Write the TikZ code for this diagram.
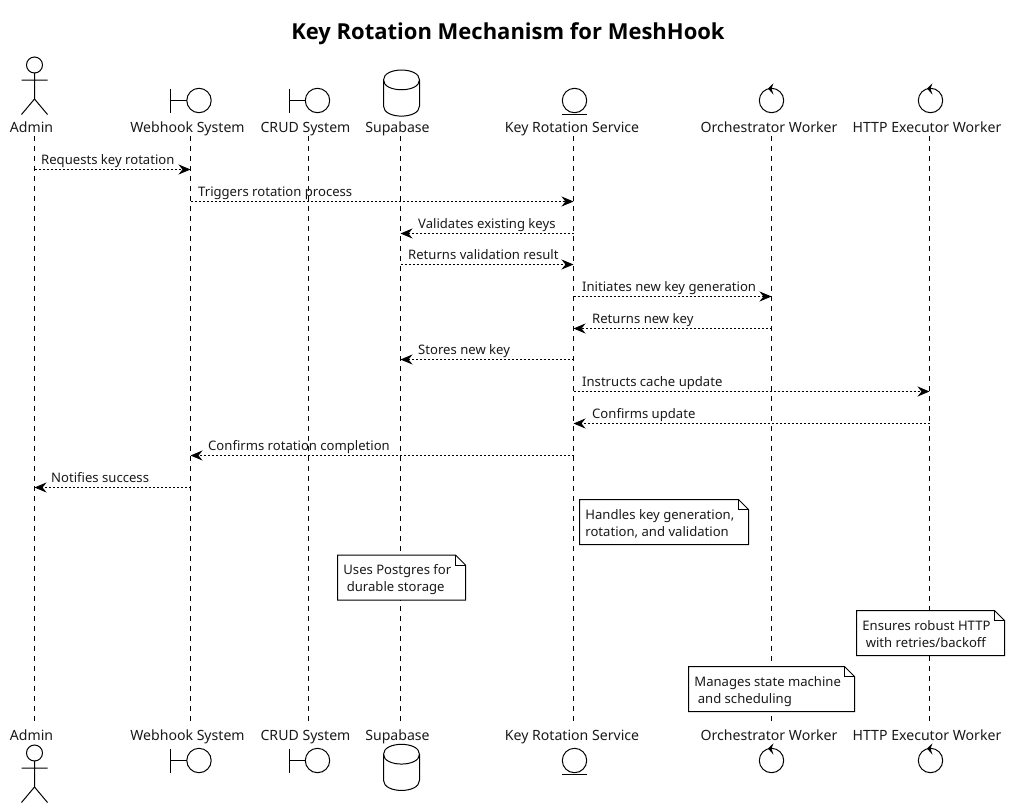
\documentclass[tikz,border=0pt]{standalone}
\usepackage{fontspec}
\setmainfont{Noto Sans}
\newfontfamily\titlefont{Open Sans}
\usetikzlibrary{arrows.meta}
\tikzset{
  lbl/.style={inner sep=0pt,font=\fontsize{14.1}{17}\selectfont,text=black!90},
  partlabel/.style={lbl,anchor=base},
  lifeline/.style={line width=0.9pt,dash pattern=on 5pt off 5pt},
  msg/.style={line width=0.8pt,dash pattern=on 2pt off 2pt,-{Stealth[length=12pt,width=10pt,inset=4pt]}},
  msgtext/.style={lbl,font=\fontsize{13.1}{16}\selectfont,anchor=base west},
  icon/.style={line width=1pt,fill=white},
  notebox/.style={line width=1pt,fill=white},
  notetext/.style={lbl,font=\fontsize{13.1}{17}\selectfont,align=left,anchor=north west}
}
\newcommand{\actorfig}[2]{% x, y offset
  \begin{scope}[shift={(#1,#2)}]
    \draw[icon] (0,0) circle (8);
    \draw[icon] (0,8) -- (0,34) (-13,15) -- (13,15) (-13,49.5) -- (0,34) -- (13,49.5);
  \end{scope}}
\newcommand{\boundaryfig}[2]{% circle centre
  \begin{scope}[shift={(#1,#2)}]
    \draw[icon] (-28.5,-12) -- (-28.5,12) (-28.5,0) -- (-12,0);
    \draw[icon] (0,0) circle (12.2);
  \end{scope}}
\newcommand{\dbfig}[2]{% top centre
  \begin{scope}[shift={(#1,#2)}]
    \draw[icon] (-18,10) .. controls (-18,-3.3) and (18,-3.3) .. (18,10)
      -- (18,36) .. controls (18,49.5) and (-18,49.5) .. (-18,36) -- cycle;
    \draw[icon,fill=none] (-18,10) .. controls (-18,23) and (18,23) .. (18,10);
  \end{scope}}
\newcommand{\entityfig}[2]{%
  \begin{scope}[shift={(#1,#2)}]
    \draw[icon] (0,0) circle (12.2);
    \draw[icon] (-12.5,14) -- (12.5,14);
  \end{scope}}
\newcommand{\controlfig}[2]{%
  \begin{scope}[shift={(#1,#2)}]
    \draw[icon] (0,0) circle (12.2);
    \fill[black] (-3.5,-12) -- (2,-17.2) -- (0,-12) -- (2,-5.8) -- cycle;
  \end{scope}}
% \notefig{name}{x1}{y1}{x2}{y2}{text}
\newcommand{\notefig}[6]{%
  \draw[notebox] (#2,#3) -- (#4-10,#3) -- (#4,#3+10) -- (#4,#5) -- (#2,#5) -- cycle;
  \draw[line width=1pt] (#4-10,#3) -- (#4-10,#3+10) -- (#4,#3+10);
  \node[notetext] (#1) at (#2+5.7,#3+9.5) {#6};}
% \msgline{from}{to}{y (integer part; .5 is added)}{label x}{label}
\newcommand{\msgline}[5]{%
  \coordinate (s#3) at (#1|-0,#3.5);
  \coordinate (e#3) at (#2|-0,#3.5);
  \draw[msg] (s#3) -- (e#3);
  \node[msgtext] (t#3) at (#4,#3-4.5) {#5};}
\begin{document}
\begin{tikzpicture}[x=1pt,y=-1pt]
\useasboundingbox (0,0) rectangle (1010,809);
\fill[white] (0,0) rectangle (1010,809);

\node[lbl,font=\titlefont\fontsize{22}{26}\selectfont\bfseries,text=black,anchor=center] (title) at (508,34) {Key Rotation Mechanism for MeshHook};

% participant anchors on the lifelines
\coordinate (admin) at (34.5,136);
\coordinate (webhook) at (190.5,136);
\coordinate (crud) at (308.5,136);
\coordinate (supabase) at (400.5,136);
\coordinate (krs) at (573.5,136);
\coordinate (orch) at (771.5,136);
\coordinate (http) at (929.5,136);
\coordinate (adminB) at (34.5,722);
\coordinate (webhookB) at (190.5,722);
\coordinate (crudB) at (308.5,722);
\coordinate (supabaseB) at (400.5,722);
\coordinate (krsB) at (573.5,722);
\coordinate (orchB) at (771.5,722);
\coordinate (httpB) at (929.5,722);

\foreach \p in {admin,webhook,crud,supabase,krs,orch,http}
  \draw[lifeline] (\p) -- (\p B);

% top labels
\node[partlabel] (l1) at (31.5,132) {Admin};
\node[partlabel] (l2) at (187.5,132) {Webhook System};
\node[partlabel] (l3) at (305.5,132) {CRUD System};
\node[partlabel] (l4) at (397.5,132) {Supabase};
\node[partlabel] (l5) at (572,132) {Key Rotation Service};
\node[partlabel] (l6) at (769,132) {Orchestrator Worker};
\node[partlabel] (l7) at (927,132) {HTTP Executor Worker};
% bottom labels
\node[partlabel] (b1) at (31.5,740) {Admin};
\node[partlabel] (b2) at (187.5,740) {Webhook System};
\node[partlabel] (b3) at (305.5,740) {CRUD System};
\node[partlabel] (b4) at (397.5,740) {Supabase};
\node[partlabel] (b5) at (572,740) {Key Rotation Service};
\node[partlabel] (b6) at (769,740) {Orchestrator Worker};
\node[partlabel] (b7) at (927,740) {HTTP Executor Worker};

% top icons
\actorfig{34.5}{65}
\boundaryfig{199}{100.5}
\boundaryfig{317.5}{100.5}
\dbfig{401.5}{70}
\entityfig{574.5}{100.5}
\controlfig{771.5}{100.5}
\controlfig{930.5}{100.5}
% bottom icons
\actorfig{34.5}{753}
\boundaryfig{199}{760.5}
\boundaryfig{317.5}{760.5}
\dbfig{401.5}{744.3}
\entityfig{574.5}{760.5}
\controlfig{771.5}{760.5}
\controlfig{930.5}{760.5}

% messages
\msgline{admin}{webhook}{169}{41}{Requests key rotation}
\msgline{webhook}{krs}{201}{198}{Triggers rotation process}
\msgline{krs}{supabase}{233}{418}{Validates existing keys}
\msgline{supabase}{krs}{264}{408}{Returns validation result}
\msgline{krs}{orch}{296}{582}{Initiates new key generation}
\msgline{orch}{krs}{328}{592}{Returns new key}
\msgline{krs}{supabase}{359}{418}{Stores new key}
\msgline{krs}{http}{391}{582}{Instructs cache update}
\msgline{http}{krs}{423}{592}{Confirms update}
\msgline{krs}{webhook}{455}{208}{Confirms rotation completion}
\msgline{webhook}{admin}{487}{51}{Notifies success}

% notes
\notefig{n1}{579.5}{499.5}{748.5}{544.5}{Handles key generation,\\rotation, and validation}
\notefig{n2}{337.5}{555}{465.5}{600}{Uses Postgres for\\\ durable storage}
\notefig{n3}{856.5}{610.5}{1004.5}{655.5}{Ensures robust HTTP\\\ with retries/backoff}
\notefig{n4}{688.5}{666.5}{854.5}{711.5}{Manages state machine\\\ and scheduling}
\end{tikzpicture}
\end{document}
